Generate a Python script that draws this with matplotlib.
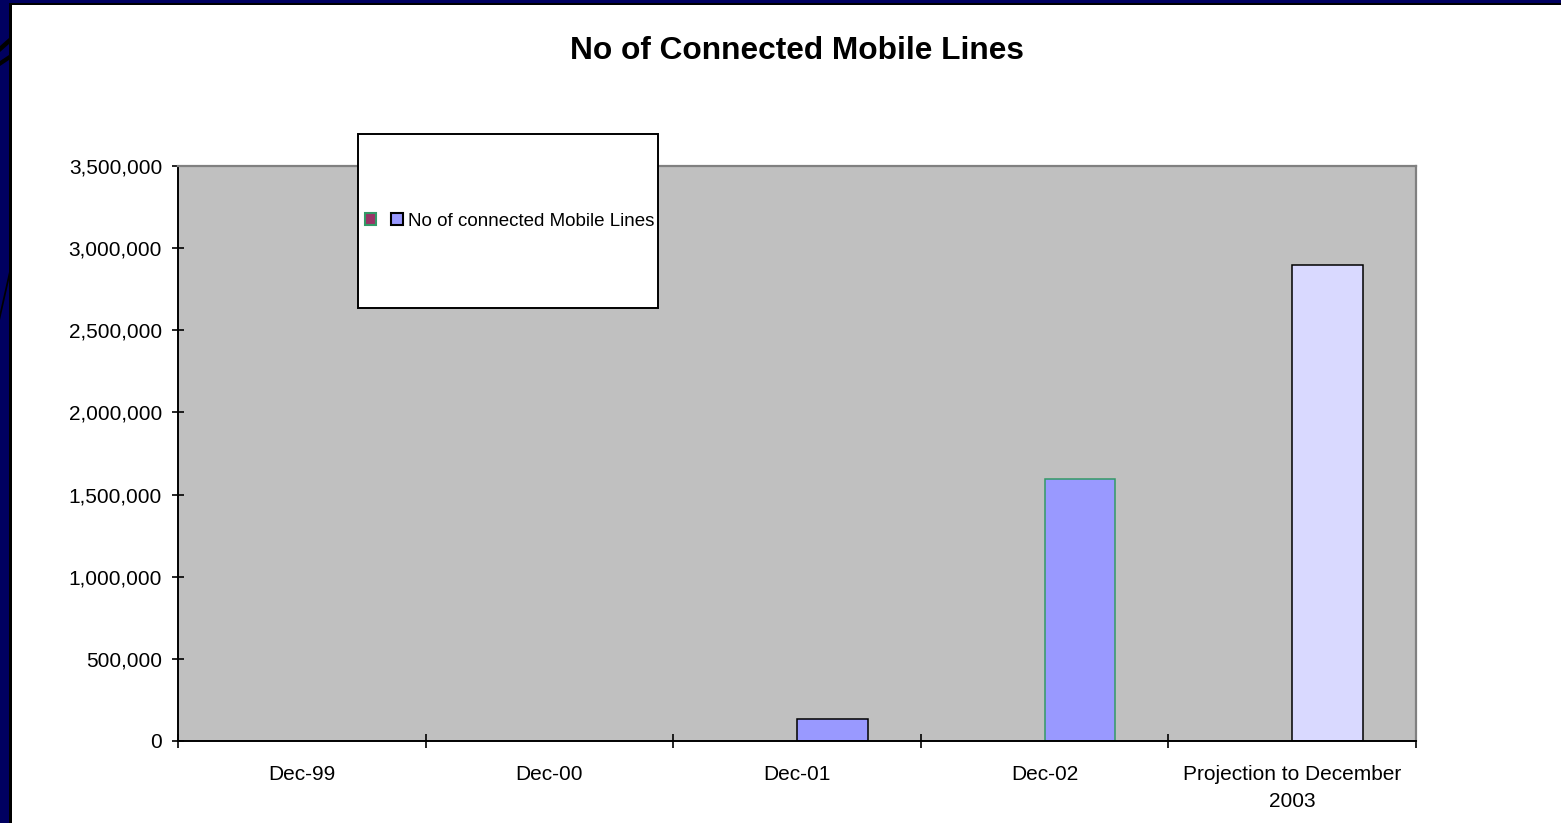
import numpy as np
import matplotlib
matplotlib.use("Agg")
import matplotlib.pyplot as plt
from matplotlib.patches import Rectangle, Polygon
from matplotlib.ticker import FuncFormatter

plt.rcParams['font.family'] = ['Liberation Sans', 'DejaVu Sans']

categories = ["Dec-99", "Dec-00", "Dec-01", "Dec-02", "Projection to December\n2003"]
series1_values = [np.nan, np.nan, np.nan, np.nan, np.nan]
series2_values = [np.nan, np.nan, 135000, 1595000, 2900000]
series2_label = "No of connected Mobile Lines"
title = "No of Connected Mobile Lines"
y_ticks = [0, 500000, 1000000, 1500000, 2000000, 2500000, 3000000, 3500000]

W, H = 1561, 823
fig = plt.figure(figsize=(W / 100, H / 100), dpi=100)


def fy(py):
    return 1 - py / H


# background frame
fig.patches.append(Rectangle((0, 0), 1, 1, transform=fig.transFigure,
                             facecolor='#000060', edgecolor='none', zorder=-10))
# decorative dark stripes in the navy border
for pts in [[(0, 52), (9, 44), (9, 38), (0, 46)],
            [(0, 66), (9, 60), (9, 55), (0, 61)],
            [(0, 320), (9, 280), (9, 272), (0, 312)]]:
    fig.patches.append(Polygon([(px / W, fy(py)) for px, py in pts],
                               transform=fig.transFigure, facecolor='black',
                               edgecolor='none', zorder=-9.5))
fig.patches.append(Rectangle((9 / W, 0), 1, (H - 3) / H, transform=fig.transFigure,
                             facecolor='black', edgecolor='none', zorder=-9))
fig.patches.append(Rectangle((12 / W, 0), 1, (H - 5) / H, transform=fig.transFigure,
                             facecolor='white', edgecolor='none', zorder=-8))

ax = fig.add_axes([178 / W, 82 / H, (1416 - 178) / W, (741 - 166) / H])
ax.set_facecolor('#C0C0C0')

x = np.arange(len(categories))
bw = 1 / 3.5
b1 = ax.bar(x - bw / 2, series1_values, bw, color='#993366', edgecolor='#339966',
            linewidth=1.1, label='')
b2 = ax.bar(x + bw / 2, series2_values, bw, color='#9999FF', edgecolor='black',
            linewidth=1.1, label=series2_label)
b2[3].set_edgecolor('#339966')
b2[4].set_facecolor('#D9D9FF')

ax.set_xlim(-0.5, len(categories) - 0.5)
ax.set_ylim(0, 3500000)
ax.set_yticks(y_ticks)
ax.yaxis.set_major_formatter(FuncFormatter(lambda v, p: f"{int(v):,}"))
ax.set_xticks(np.arange(-0.5, len(categories), 1))
ax.set_xticklabels([])
ax.set_xticks(x, minor=True)
ax.set_xticklabels(categories, minor=True, fontsize=15, linespacing=1.55, va='top')
ax.tick_params(axis='x', which='minor', length=0, pad=17)
ax.tick_params(axis='x', which='major', direction='inout', length=10, width=1.2)
ax.tick_params(axis='y', direction='inout', length=9, width=1.2, labelsize=15, pad=7)

for s in ['top', 'right']:
    ax.spines[s].set_color('#808080')
    ax.spines[s].set_linewidth(1.6)
for s in ['left', 'bottom']:
    ax.spines[s].set_color('black')
    ax.spines[s].set_linewidth(1.4)

fig.text(797 / W, fy(51), title, ha='center', va='center',
         fontsize=22.8, fontweight='bold')

# legend box
fig.patches.append(Rectangle((358 / W, (H - 308) / H), 300 / W, 174 / H,
                             transform=fig.transFigure, facecolor='white',
                             edgecolor='black', linewidth=1.4, zorder=5))
h1 = Rectangle((0, 0), 1, 1, facecolor='#993366', edgecolor='#339966', linewidth=1.5)
h2 = Rectangle((0, 0), 1, 1, facecolor='#9999FF', edgecolor='black', linewidth=1.5)
leg = fig.legend([h1, h2], ['', series2_label], ncol=2, frameon=False,
                 loc='center left', bbox_to_anchor=(365 / W, fy(221)),
                 fontsize=13.5, handlelength=0.6, handleheight=0.6,
                 handletextpad=0.3, columnspacing=0.5, borderpad=0, borderaxespad=0)
leg.set_zorder(6)

fig.savefig("out.png", dpi=100)
